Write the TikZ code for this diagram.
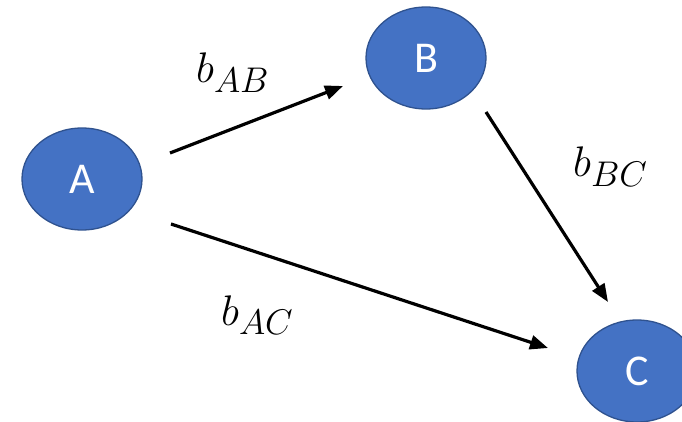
\documentclass[tikz,border=0pt]{standalone}
\usepackage{fontspec}
\setsansfont{Carlito}
\usetikzlibrary{arrows.meta,shapes.geometric}
\definecolor{officeblue}{HTML}{4472C4}
\definecolor{officeedge}{HTML}{2F528F}
% math fonts stop at 24.88pt, so weights are scaled up from there
\newcommand{\bigweight}[1]{\scalebox{1.72}{\fontsize{24.88}{25}\selectfont$#1$}}
\begin{document}
\begin{tikzpicture}[x=1pt,y=-1pt,
  state/.style={ellipse,draw=officeedge,fill=officeblue,line width=1.3pt,
    minimum width=120pt,minimum height=102pt,inner sep=0pt,
    text=white,font=\sffamily\fontsize{44}{44}\selectfont},
  edge/.style={line width=3.2pt,-{Triangle[length=18pt,width=14pt]}},
  weight/.style={inner sep=0pt,anchor=base west}]
\useasboundingbox (0,0) rectangle (682,422);
\clip (0,0) rectangle (682,422);
\fill[white] (0,0) rectangle (682,422);

% states
\node[state] (A) at (82,179) {A};
\node[state] (B) at (426,58) {B};
\node[state] (C) at (637,371) {C};

% connector ends
\coordinate (ab0) at (170,153);
\coordinate (ab1) at (343,86);
\coordinate (bc0) at (486,112);
\coordinate (bc1) at (608,302);
\coordinate (ac0) at (171,224);
\coordinate (ac1) at (548,348);

\draw[edge] (ab0) -- (ab1);
\draw[edge] (bc0) -- (bc1);
\draw[edge] (ac0) -- (ac1);

% edge weights
\node[weight] (lab) at (196,83) {\bigweight{b_{AB}}};
\node[weight] (lbc) at (573,177) {\bigweight{b_{BC}}};
\node[weight] (lac) at (221,325) {\bigweight{b_{AC}}};
\end{tikzpicture}
\end{document}
